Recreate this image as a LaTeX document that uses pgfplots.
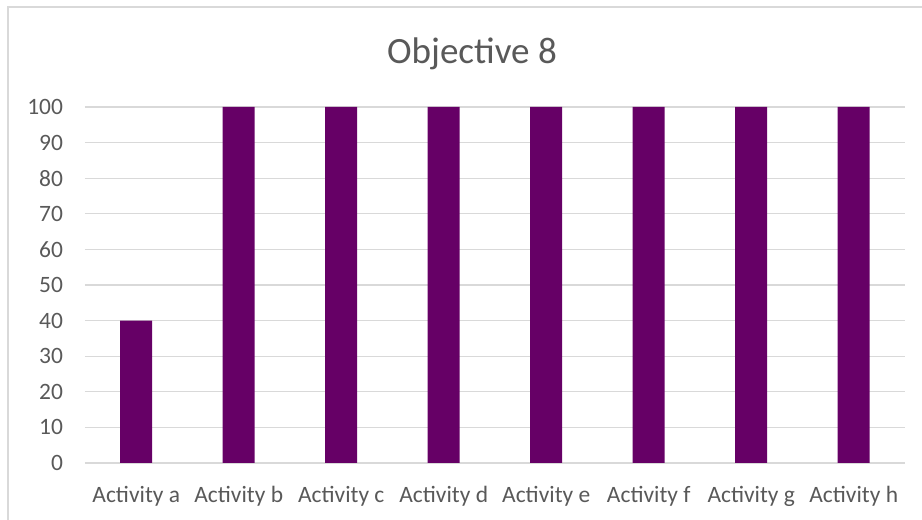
\documentclass[border=0pt]{standalone}
\usepackage{pgfplots}
\pgfplotsset{compat=1.18}
\usepackage{fontspec}
\setmainfont{Carlito}
\definecolor{barc}{HTML}{660066}
\definecolor{gridc}{HTML}{D9D9D9}
\definecolor{txt}{HTML}{595959}
\begin{document}
\begin{tikzpicture}
\begin{scope}[x=0.75pt,y=-0.75pt,yshift=390pt]
\path[use as bounding box] (0,0) rectangle (922,520);
\draw[gridc, line width=0.9pt] (8,521) -- (8,7) -- (923,7);
\node[txt, font=\fontsize{27.8}{32}\selectfont] at (472,54) {Objective 8};
\end{scope}
\begin{axis}[
  at={(63.75pt,42.75pt)}, anchor=south west,
  scale only axis, width=615pt, height=267pt,
  xmin=-0.5, xmax=7.5, ymin=0, ymax=100,
  ytick={0,10,...,100},
  xtick={0,...,7},
  xticklabels={Activity a,Activity b,Activity c,Activity d,Activity e,Activity f,Activity g,Activity h},
  axis line style={draw=none},
  major tick length=0pt,
  ymajorgrids, grid style={gridc, line width=0.9pt},
  tick label style={txt, font=\fontsize{17.6}{20}\selectfont},
  /pgf/number format/assume math mode=true,
  yticklabel style={xshift=-13pt},
  xticklabel style={yshift=-14pt},
  clip=false,
]
\addplot[ybar, bar width=24pt, fill=barc, draw=none] coordinates {
(0,40) (1,100) (2,100) (3,100) (4,100) (5,100) (6,100) (7,100)};
\end{axis}
\end{tikzpicture}
\end{document}
